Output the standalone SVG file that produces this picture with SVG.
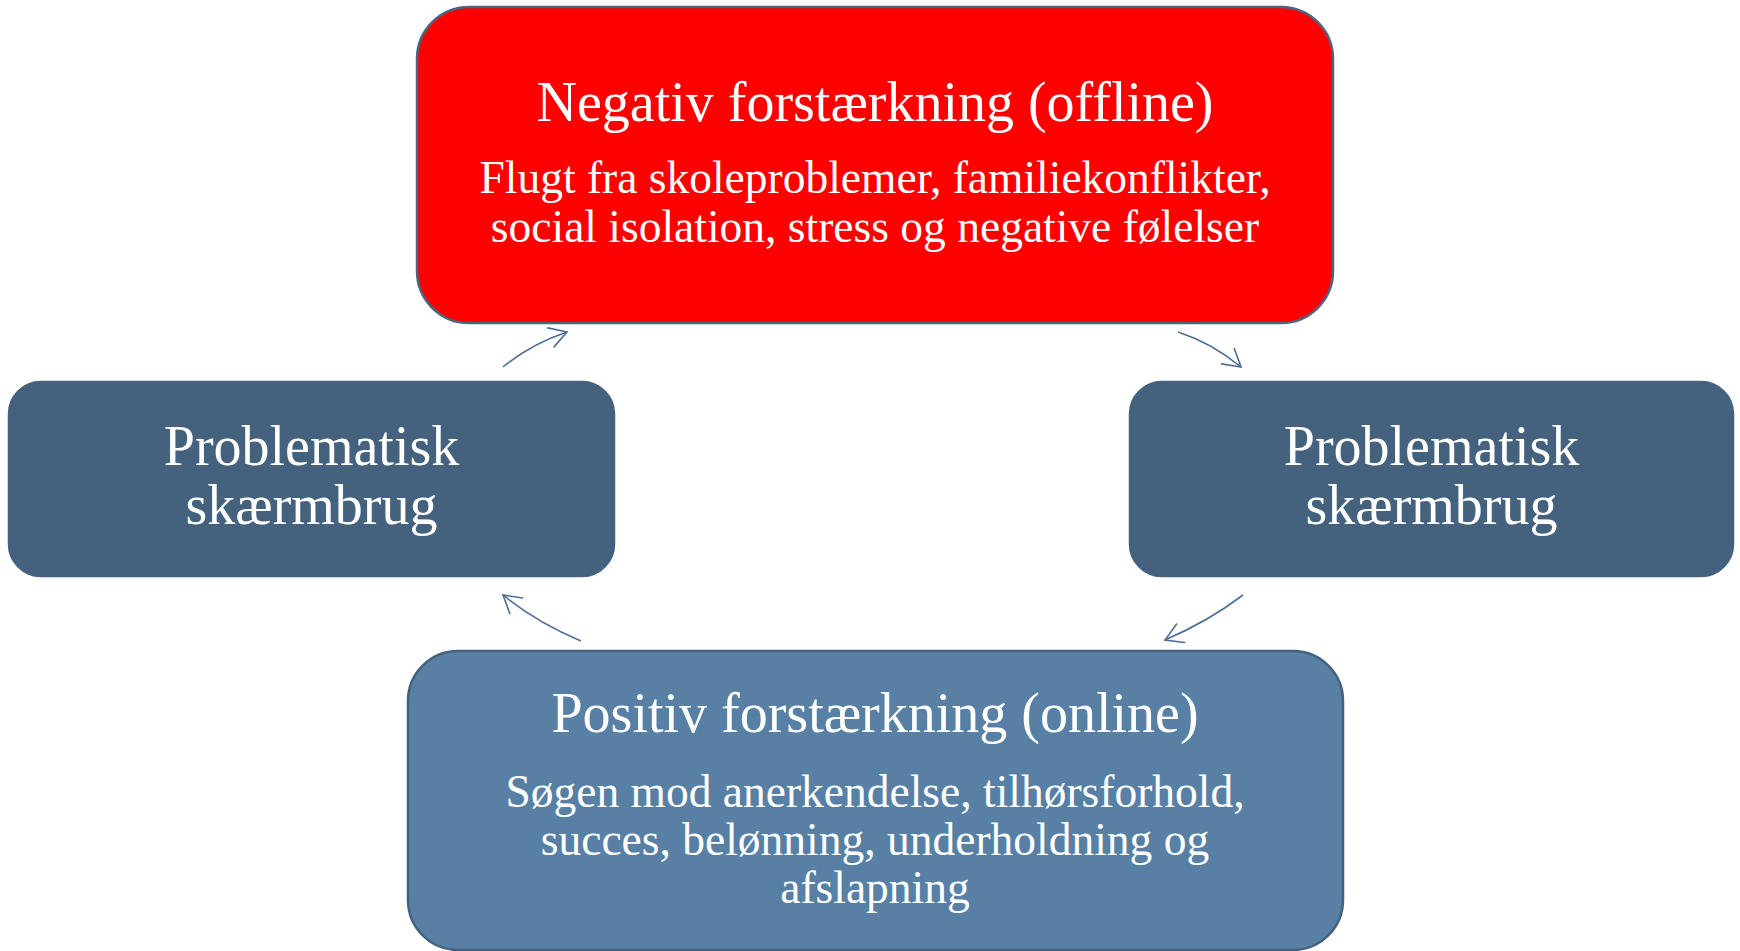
<svg xmlns="http://www.w3.org/2000/svg" width="1740" height="951" viewBox="0 0 1740 951">
  <style>
    .box { stroke-width: 2.5; }
    .neg { fill: #fe0000; stroke: #4a6580; }
    .mid { fill: #44617e; stroke: #44617e; }
    .pos { fill: #5880a5; stroke: #44617e; }
    text { font-family: "Liberation Serif", "DejaVu Serif", serif; fill: #ffffff; text-anchor: middle; }
    .title { font-size: 56px; }
    .body { font-size: 45.5px; }
    .conn { fill: none; stroke: #4d6e93; stroke-width: 1.6; marker-end: url(#ah); }
  </style>
  <defs>
    <marker id="ah" markerUnits="userSpaceOnUse" markerWidth="26" markerHeight="26" viewBox="-22 -13 26 26" refX="0" refY="0" orient="auto">
      <path d="M-17,-10 L0,0 L-17,10" fill="none" stroke="#4d6e93" stroke-width="1.6" stroke-linecap="round"/>
    </marker>
  </defs>

  <rect width="1740" height="951" fill="#ffffff"/>

  <!-- cycle connectors -->
  <g id="connectors">
    <path class="conn" d="M503,367 Q531,344 567,332"/>
    <path class="conn" d="M1178,332 Q1212,343 1241,367"/>
    <path class="conn" d="M1243,595 Q1209,621 1165,640"/>
    <path class="conn" d="M581,641 Q536,622 503,595"/>
  </g>

  <g id="negativ">
    <rect class="box neg" x="417" y="7" width="916" height="316" rx="52" ry="52"/>
    <text class="title" x="875" y="121">Negativ forstærkning (offline)</text>
    <text class="body" x="875" y="193">Flugt fra skoleproblemer, familiekonflikter,</text>
    <text class="body" x="875" y="242">social isolation, stress og negative følelser</text>
  </g>

  <g id="skaerm-venstre">
    <rect class="box mid" x="9" y="382" width="605" height="194" rx="32" ry="32"/>
    <text class="title" x="311.5" y="465">Problematisk</text>
    <text class="title" x="311.5" y="524">skærmbrug</text>
  </g>

  <g id="skaerm-hoejre">
    <rect class="box mid" x="1130" y="382" width="603" height="194" rx="32" ry="32"/>
    <text class="title" x="1431.5" y="465">Problematisk</text>
    <text class="title" x="1431.5" y="524">skærmbrug</text>
  </g>

  <g id="positiv">
    <rect class="box pos" x="408" y="651" width="935" height="299" rx="50" ry="50"/>
    <text class="title" x="875" y="732">Positiv forstærkning (online)</text>
    <text class="body" x="875" y="807">Søgen mod anerkendelse, tilhørsforhold,</text>
    <text class="body" x="875" y="855">succes, belønning, underholdning og</text>
    <text class="body" x="875" y="903">afslapning</text>
  </g>
</svg>
